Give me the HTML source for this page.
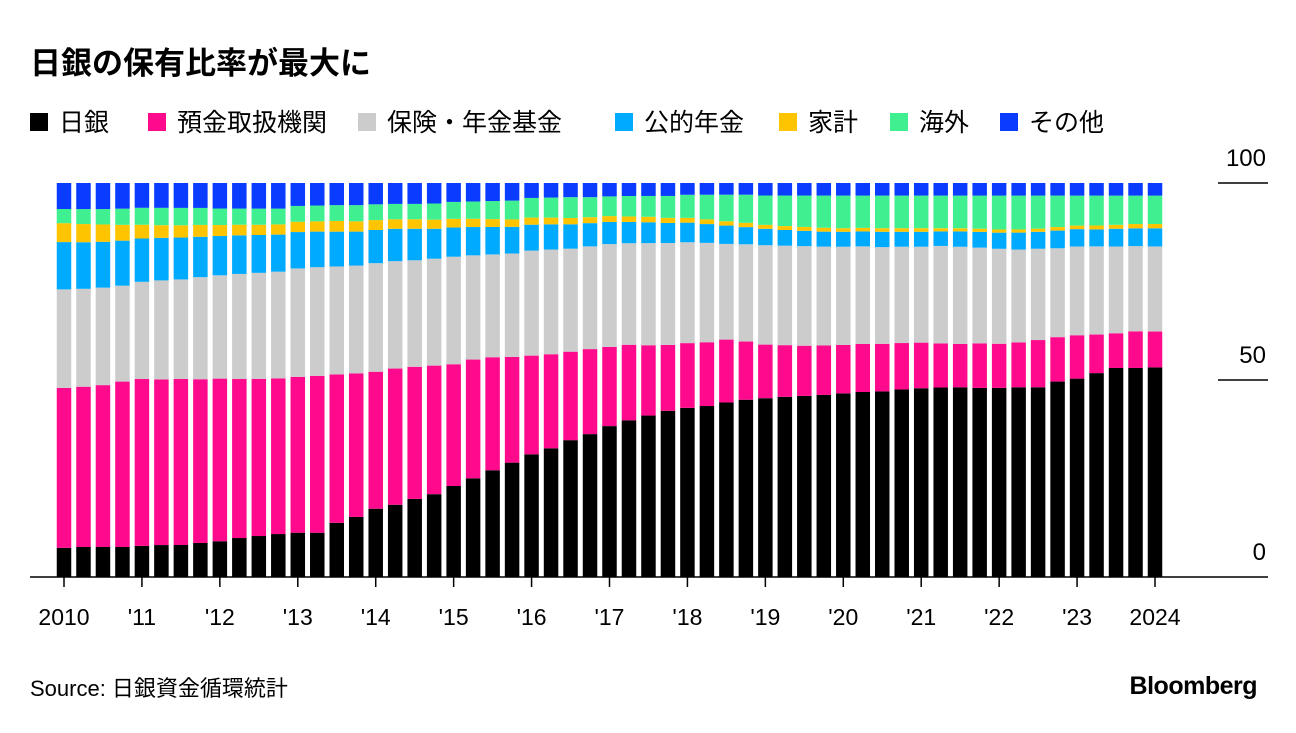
<!DOCTYPE html>
<html><head><meta charset="utf-8">
<style>
body{margin:0;background:#fff;width:1296px;height:728px;overflow:hidden;font-family:"Liberation Sans","Noto Sans CJK JP",sans-serif;}
svg text{font-family:"Liberation Sans","Noto Sans CJK JP",sans-serif;}
</style></head>
<body>
<svg id="chart" width="1296" height="728" viewBox="0 0 1296 728">
<text x="30" y="74" font-size="31" font-weight="bold" fill="#000">日銀の保有比率が最大に</text>
<g id="legend"></g>
<g id="grid"></g>
<g id="bars"></g>
<g id="axis"></g>
<text x="30" y="696" font-size="22" fill="#000">Source: 日銀資金循環統計</text>
<text x="1257" y="694" font-size="25" font-weight="bold" text-anchor="end" fill="#000" letter-spacing="-0.5">Bloomberg</text>
</svg>
<script>
const seriesNames = ["日銀","預金取扱機関","保険・年金基金","公的年金","家計","海外","その他"];
const seriesColors = ["#000000","#ff0a8c","#cccccc","#00aaff","#ffc400","#40f090","#0a3cff"];
const boj = [7.4,7.6,7.6,7.6, 7.9,8.1,8.1,8.6, 9.1,9.9,10.4,10.9, 11.2,11.2,13.7,15.2, 17.3,18.3,19.8,21.0, 23.1,25.1,27.2,29.2, 31.2,32.7,34.8,36.3, 38.3,39.8,41.1,42.4, 43.1,43.7,44.7,45.4, 45.7,46.0,46.2,46.4, 46.7,47.0,47.2,47.7, 48.0,48.2,48.2,48.0, 48.0,48.2,48.2,49.7, 50.3,51.8,53.0,53.0, 53.2];
const banks = [40.6,40.6,41.0,41.9, 42.4,42.0,42.0,41.4, 41.4,40.4,39.9,39.5, 39.4,39.7,37.5,36.3, 34.7,34.5,33.5,32.6, 30.9,30.2,28.8,27.0, 25.1,23.9,22.5,21.6, 20.1,19.2,17.9,16.8, 16.5,16.3,16.1,14.9, 13.7,13.2,12.8,12.6, 12.3,12.2,12.1,11.8, 11.6,11.2,11.0,11.3, 11.2,11.4,12.0,11.3, 11.0,9.8,8.8,9.3, 9.1];
const insurance = [25.0,24.8,24.7,24.3, 24.7,25.1,25.2,25.8, 26.3,26.7,26.9,27.1, 27.4,27.5,27.3,27.3, 27.5,27.2,27.0,27.1, 27.3,26.5,26.2,26.4, 26.7,26.6,26.2,26.1, 26.1,25.8,26.0,26.0, 25.7,25.4,24.5,24.9, 25.4,25.4,25.4,25.2, 25.0,24.8,24.6,24.5, 24.4,24.8,24.7,24.3, 24.1,23.6,23.2,22.6, 22.5,22.4,22.0,21.6, 21.6];
const publicPension = [12.0,11.8,11.6,11.4, 11.0,10.8,10.6,10.2, 10.0,9.8,9.6,9.4, 9.2,9.0,8.8,8.6, 8.4,8.2,8.0,7.6, 7.4,7.2,7.0,6.8, 6.6,6.4,6.2,5.9, 5.6,5.4,5.3,5.1, 5.0,4.8,4.7,4.4, 4.2,4.0,3.9,3.8, 3.8,3.8,3.9,3.8, 3.8,3.7,3.9,4.0, 4.1,4.3,4.3,4.5, 4.4,4.3,4.5,4.5, 4.6];
const households = [4.8,4.6,4.4,4.0, 3.5,3.2,3.1,3.0, 2.8,2.7,2.6,2.6, 2.6,2.6,2.7,2.6, 2.5,2.4,2.4,2.3, 2.2,2.1,2.0,1.9, 1.8,1.7,1.6,1.5, 1.5,1.4,1.4,1.3, 1.2,1.2,1.1,1.1, 1.0,1.0,1.0,1.0, 0.9,0.9,0.9,0.9, 0.9,0.8,0.8,0.8, 0.8,0.8,0.8,0.9, 0.9,1.0,1.0,1.1, 1.1];
const overseas = [3.6,3.8,3.9,4.1, 4.3,4.4,4.4,4.3, 4.2,4.1,4.1,4.0, 4.0,4.0,4.0,4.1, 4.0,3.9,3.9,4.1, 4.3,4.4,4.6,4.8, 5.0,5.1,5.3,5.1, 5.0,5.2,5.3,5.6, 5.9,6.3,6.8,7.2, 7.5,7.8,8.0,8.2, 8.3,8.2,8.3,8.3, 8.3,8.3,8.3,8.4, 8.6,8.6,8.4,8.0, 7.6,7.6,7.4,7.2, 7.2];
const others = [6.6,6.6,6.6,6.5, 6.3,6.3,6.3,6.3, 6.5,6.5,6.5,6.5, 5.8,5.7,5.6,5.6, 5.4,5.3,5.3,5.2, 4.8,4.7,4.6,4.5, 3.8,3.7,3.6,3.6, 3.4,3.3,3.3,3.3, 3.0,3.0,3.0,3.0, 3.2,3.2,3.2,3.2, 3.2,3.2,3.2,3.2, 3.2,3.2,3.2,3.2, 3.2,3.2,3.2,3.2, 3.2,3.2,3.2,3.2, 3.2];
const yTicks = [0,50,100];
const xTickLabels = ["2010","'11","'12","'13","'14","'15","'16","'17","'18","'19","'20","'21","'22","'23","2024"];

const NS="http://www.w3.org/2000/svg";
const series=[boj,banks,insurance,publicPension,households,overseas,others];
const nBars=boj.length;
const x0=64, x1=1155, baseY=577, topY=183;
function xPos(i){return x0+(x1-x0)*i/(nBars-1);}
function yPos(v){return baseY-(baseY-topY)*v/100;}
function mk(tag,attrs,parent){const e=document.createElementNS(NS,tag);for(const k in attrs)e.setAttribute(k,attrs[k]);parent.appendChild(e);return e;}

const lg=document.getElementById('legend');
const legX=[30,148,358,615,779,890,1000];
seriesNames.forEach((n,i)=>{
  const g=mk('g',{},lg);
  
  
  mk('rect',{x:legX[i],y:113,width:18,height:18,fill:seriesColors[i]},g);
  const t=mk('text',{x:legX[i]+29,y:131,'font-size':25,fill:'#000'},g);
  t.textContent=n;
});

const bg=document.getElementById('bars');
const bw=14.5;
for(let i=0;i<nBars;i++){
  let total=0;series.forEach(s=>total+=s[i]);
  let cum=0;
  series.forEach((s,k)=>{
    const v=s[i]/total*100;
    const yt=yPos(cum+v), yb=yPos(cum);
    const r=mk('rect',{x:(xPos(i)-bw/2).toFixed(2),y:yt.toFixed(2),width:bw,height:Math.max(0,yb-yt).toFixed(2),fill:seriesColors[k]},bg);
    
    
    cum+=v;
  });
}

const gr=document.getElementById('grid');
yTicks.forEach(t=>{
  const y=yPos(t);
  if(t>0){const l=mk('line',{x1:1218,x2:1268,y1:y,y2:y,stroke:'#000','stroke-width':1.5},gr);
    }
  const tx=mk('text',{x:1266,y:y-17,'font-size':24,'text-anchor':'end',fill:'#000'},gr);
  
  
  tx.textContent=t;
});

const ax=document.getElementById('axis');
const base=mk('line',{x1:30,x2:1268,y1:baseY,y2:baseY,stroke:'#000','stroke-width':1.5},ax);


xTickLabels.forEach((lab,j)=>{
  const x=xPos(j*4);
  mk('line',{x1:x,x2:x,y1:baseY,y2:baseY+10,stroke:'#000','stroke-width':1.5},ax);
  const t=mk('text',{x:x,y:625,'font-size':23,'text-anchor':'middle',fill:'#000'},ax);
  
  
  t.textContent=lab;
});
</script>
</body></html>
